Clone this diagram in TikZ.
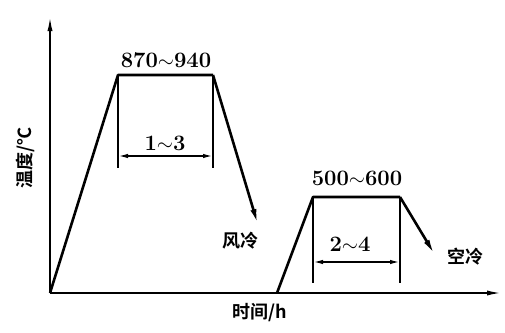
\documentclass[tikz,border=0pt]{standalone}
\usepackage{fontspec}
\newfontfamily\cjk{Noto Sans CJK SC Bold}
\usetikzlibrary{arrows.meta,positioning}

\begin{document}
\begin{tikzpicture}[x=1pt,y=-1pt,
  curve/.style={line width=2.6pt,line join=round},
  axis/.style={line width=2pt,-{Latex[length=16pt,width=5pt]}},
  cool/.style={line width=2.6pt,-{Latex[length=16pt,width=6pt]}},
  extline/.style={line width=1.6pt},
  dimline/.style={line width=1.6pt,{Latex[length=10pt,width=4.5pt]}-{Latex[length=10pt,width=4.5pt]}},
  num/.style={font=\fontsize{22}{26}\selectfont\bfseries,inner sep=0pt},
  lbl/.style={font=\cjk\fontsize{18}{22}\selectfont,inner sep=0pt}]
\useasboundingbox (0,0) rectangle (505,332);
% axes
\coordinate (O) at (50,293);
\coordinate (ytop) at (50,15);
\coordinate (xend) at (503,293);
\draw[axis] (O) -- (ytop);
\draw[axis] (O) -- (xend);
% quench stage
\coordinate (q1) at (118,75);
\coordinate (q2) at (213,75);
\coordinate (q3) at (258,225);
\draw[curve] (O) -- (q1) -- (q2);
\draw[cool] (q2) -- (q3);
\coordinate (qa) at (118,168);
\coordinate (qb) at (213,168);
\draw[extline] (q1) -- (qa);
\draw[extline] (q2) -- (qb);
\coordinate (qdl) at (118,156);
\coordinate (qdr) at (213,156);
\draw[dimline] (qdl) -- (qdr);
% temper stage
\coordinate (t0) at (277,293);
\coordinate (t1) at (313,197);
\coordinate (t2) at (400,197);
\coordinate (t3) at (435,255);
\draw[curve] (t0) -- (t1) -- (t2);
\draw[cool] (t2) -- (t3);
\coordinate (ta) at (313,283);
\coordinate (tb) at (400,283);
\draw[extline] (t1) -- (ta);
\draw[extline] (t2) -- (tb);
\coordinate (tdl) at (313,262);
\coordinate (tdr) at (400,262);
\draw[dimline] (tdl) -- (tdr);
% labels
\node[num] (qtemp) at (166,60) {870$\sim$940};
\node[num] (qtime) at (165,143) {1$\sim$3};
\node[lbl] (qcool) at (240,241) {风冷};
\node[num] (ttemp) at (357,178) {500$\sim$600};
\node[num] (ttime) at (350,244) {2$\sim$4};
\node[lbl] (tcool) at (465,257) {空冷};
\node[lbl] (xlab) at (260,313) {时间/\textit{h}};
\node[lbl,rotate=90] (ylab) at (25,158) {温度/℃};
\end{tikzpicture}
\end{document}
